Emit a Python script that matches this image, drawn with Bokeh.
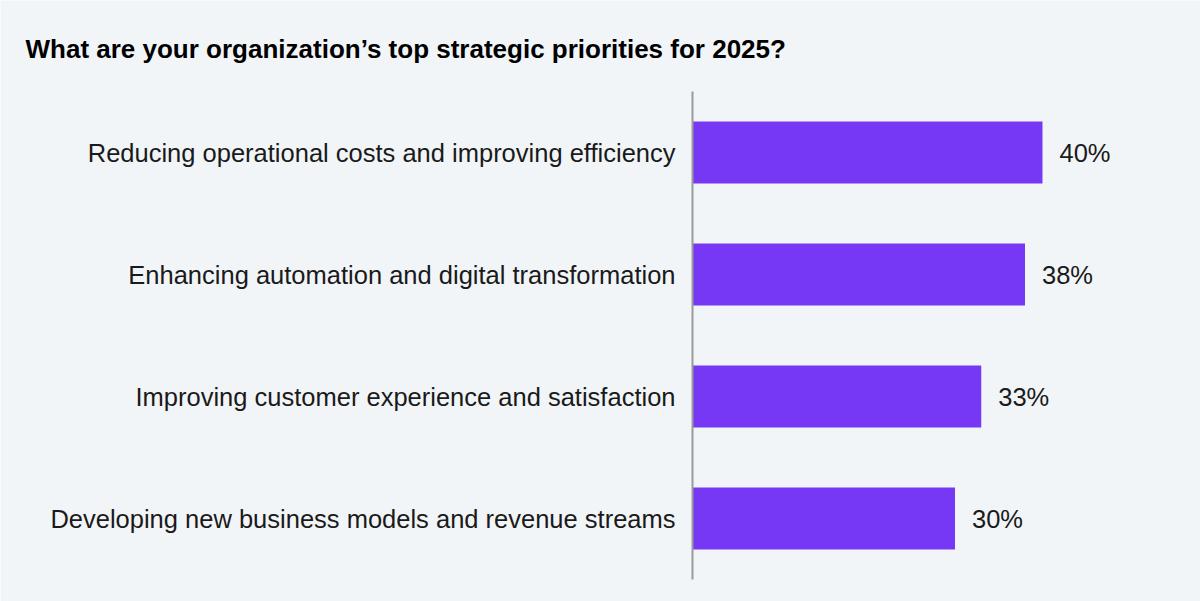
from bokeh.plotting import figure
from bokeh.models import Range1d, Label, ColumnDataSource
from bokeh.core.properties import value
from bokeh.embed import file_html
from bokeh.resources import INLINE

# Survey results: share of respondents naming each strategic priority
categories = [
    "Reducing operational costs and improving efficiency",
    "Enhancing automation and digital transformation",
    "Improving customer experience and satisfaction",
    "Developing new business models and revenue streams",
]
shares = [40, 38, 33, 30]
share_labels = [f"{v}%" for v in shares]
title_text = "What are your organization\u2019s top strategic priorities for 2025?"

BG = "#F2F5F8"
BAR = "#7638F4"
FONT = "Liberation Sans"

rows = list(range(len(categories)))
src = ColumnDataSource(dict(row=rows, cat=categories, share=shares, lab=share_labels))

# 8.75 px per percentage point, baseline at x = 692 px; rows 122 px apart
p = figure(
    width=1200, height=601,
    x_range=Range1d(-692 / 8.75, (1200 - 692) / 8.75),
    y_range=Range1d((601 - 152) / 122, -152 / 122),
    output_backend="svg", toolbar_location=None,
    min_border=0, min_border_left=0, min_border_right=0,
    min_border_top=0, min_border_bottom=0,
)
p.background_fill_color = BG
p.border_fill_color = BG
p.outline_line_color = None
p.xaxis.visible = False
p.yaxis.visible = False
p.xgrid.visible = False
p.ygrid.visible = False

p.hbar(y="row", left=0, right="share", height=0.508, source=src,
       fill_color=BAR, line_color=None)

# vertical baseline
p.segment(x0=[0], y0=[-0.5], x1=[0], y1=[3.5], line_color="#9A9A9A", line_width=2)

p.text(x=0, y="row", text="cat", source=src, x_offset=-17,
       text_align="right", text_baseline="middle",
       text_font=value(FONT), text_font_size="25.5px",
       text_color="#1A1A1A")

p.text(x="share", y="row", text="lab", source=src, x_offset=17,
       text_align="left", text_baseline="middle",
       text_font=value(FONT), text_font_size="25.5px",
       text_color="#1A1A1A")

p.add_layout(Label(x=25, y=601 - 48, x_units="screen", y_units="screen",
                   text=title_text, text_font=FONT,
                   text_font_style="bold", text_font_size="26px",
                   text_color="#000000", text_baseline="alphabetic"))

open("out.html", "w").write(file_html(p, INLINE))
